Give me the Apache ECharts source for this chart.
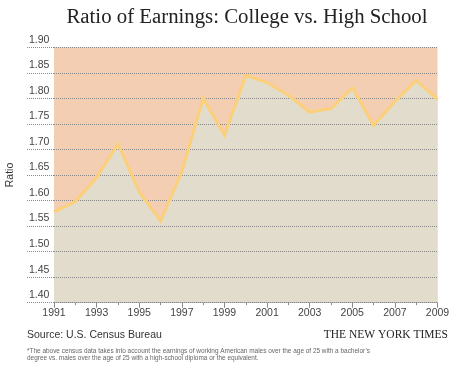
<!DOCTYPE html>
<html>
<head>
<meta charset="utf-8">
<script src="https://cdn.jsdelivr.net/npm/echarts@6/dist/echarts.min.js"></script>
<style>
html,body{margin:0;padding:0;background:#fff;}
#c{width:460px;height:368px;}
</style>
</head>
<body>
<div id="c"></div>
<script>
var years = ['1991','1992','1993','1994','1995','1996','1997','1998','1999','2000','2001','2002','2003','2004','2005','2006','2007','2008','2009'];
var ratio = [1.578, 1.598, 1.645, 1.711, 1.617, 1.560, 1.657, 1.800, 1.728, 1.845, 1.831, 1.806, 1.773, 1.780, 1.821, 1.747, 1.794, 1.835, 1.798];
var yMin = 1.40, yMax = 1.90, yStep = 0.05;
var titleText = 'Ratio of Earnings: College vs. High School';
var sourceText = 'Source: U.S. Census Bureau';
var creditText = 'THE NEW YORK TIMES';
var noteLines = [
  '*The above census data takes into account the earnings of working American males over the age of 25 with a bachelor\u2019s',
  'degree vs. males over the age of 25 with a high-school diploma or the equivalent.'
];

var chart = echarts.init(document.getElementById('c'), null, {renderer: 'canvas'});
var sans = '"Liberation Sans", Arial, Helvetica, sans-serif';
var serif = '"Liberation Serif", "Times New Roman", serif';

chart.setOption({
  animation: false,
  backgroundColor: '#ffffff',
  title: {
    text: titleText,
    left: 242, top: 2, textAlign: 'center',
    textStyle: {fontFamily: serif, fontSize: 20.8, fontWeight: 'normal', color: '#222'}
  },
  grid: {
    left: 54, right: 22.5, top: 47.3, bottom: 65.3,
    containLabel: false, outerBoundsMode: 'none',
    show: true, backgroundColor: '#f3ceb2', borderWidth: 0
  },
  xAxis: [{
    type: 'category', data: years, boundaryGap: false,
    axisLine: {show: true, lineStyle: {color: '#8a8a8a', width: 1}},
    axisTick: {show: true, interval: 1, length: 5, lineStyle: {color: '#8a8a8a'}},
    axisLabel: {interval: 1, margin: 5, fontFamily: sans, fontSize: 10.5, color: '#444'},
    splitLine: {show: false}
  }, {
    type: 'category', data: years, boundaryGap: false, position: 'bottom', gridIndex: 0,
    axisLine: {show: false},
    axisTick: {show: true, interval: 0, length: 2.5, lineStyle: {color: '#8a8a8a'}},
    axisLabel: {show: false},
    splitLine: {show: false}
  }],
  yAxis: {
    type: 'value', min: yMin, max: yMax, interval: yStep, z: 3,
    name: 'Ratio', nameLocation: 'middle', nameGap: 38, nameRotate: 90,
    nameTextStyle: {fontFamily: sans, fontSize: 10.5, color: '#333'},
    axisLine: {show: false},
    axisTick: {show: true, length: 28, lineStyle: {color: '#888', type: [1, 1], width: 1}},
    axisLabel: {
      margin: 25, align: 'left', verticalAlign: 'bottom', padding: [0, 0, 2, 0],
      fontFamily: sans, fontSize: 10.5, color: '#444',
      formatter: function (v) { return v.toFixed(2); }
    },
    splitLine: {show: true, lineStyle: {color: '#888', type: [1, 1], width: 1}}
  },
  series: [{
    type: 'line', data: ratio, xAxisIndex: 0, z: 1,
    symbol: 'none', smooth: false,
    lineStyle: {width: 0, opacity: 0},
    areaStyle: {color: '#e1dccb', opacity: 1, origin: 'start'}
  }, {
    type: 'line', data: ratio, xAxisIndex: 0, z: 5,
    symbol: 'none', smooth: false,
    lineStyle: {color: '#fcd07a', width: 3, join: 'miter'}
  }],
  graphic: [{
    type: 'text', left: 27, top: 330,
    style: {text: sourceText, font: '10.5px ' + sans, fill: '#333'}
  }, {
    type: 'text', right: 12, top: 329,
    style: {text: creditText, font: '11.5px ' + serif, fill: '#222'}
  }, {
    type: 'text', left: 27, top: 348,
    style: {text: noteLines[0], font: '6.45px ' + sans, fill: '#666'}
  }, {
    type: 'text', left: 27, top: 355,
    style: {text: noteLines[1], font: '6.45px ' + sans, fill: '#666'}
  }]
});
</script>
</body>
</html>
